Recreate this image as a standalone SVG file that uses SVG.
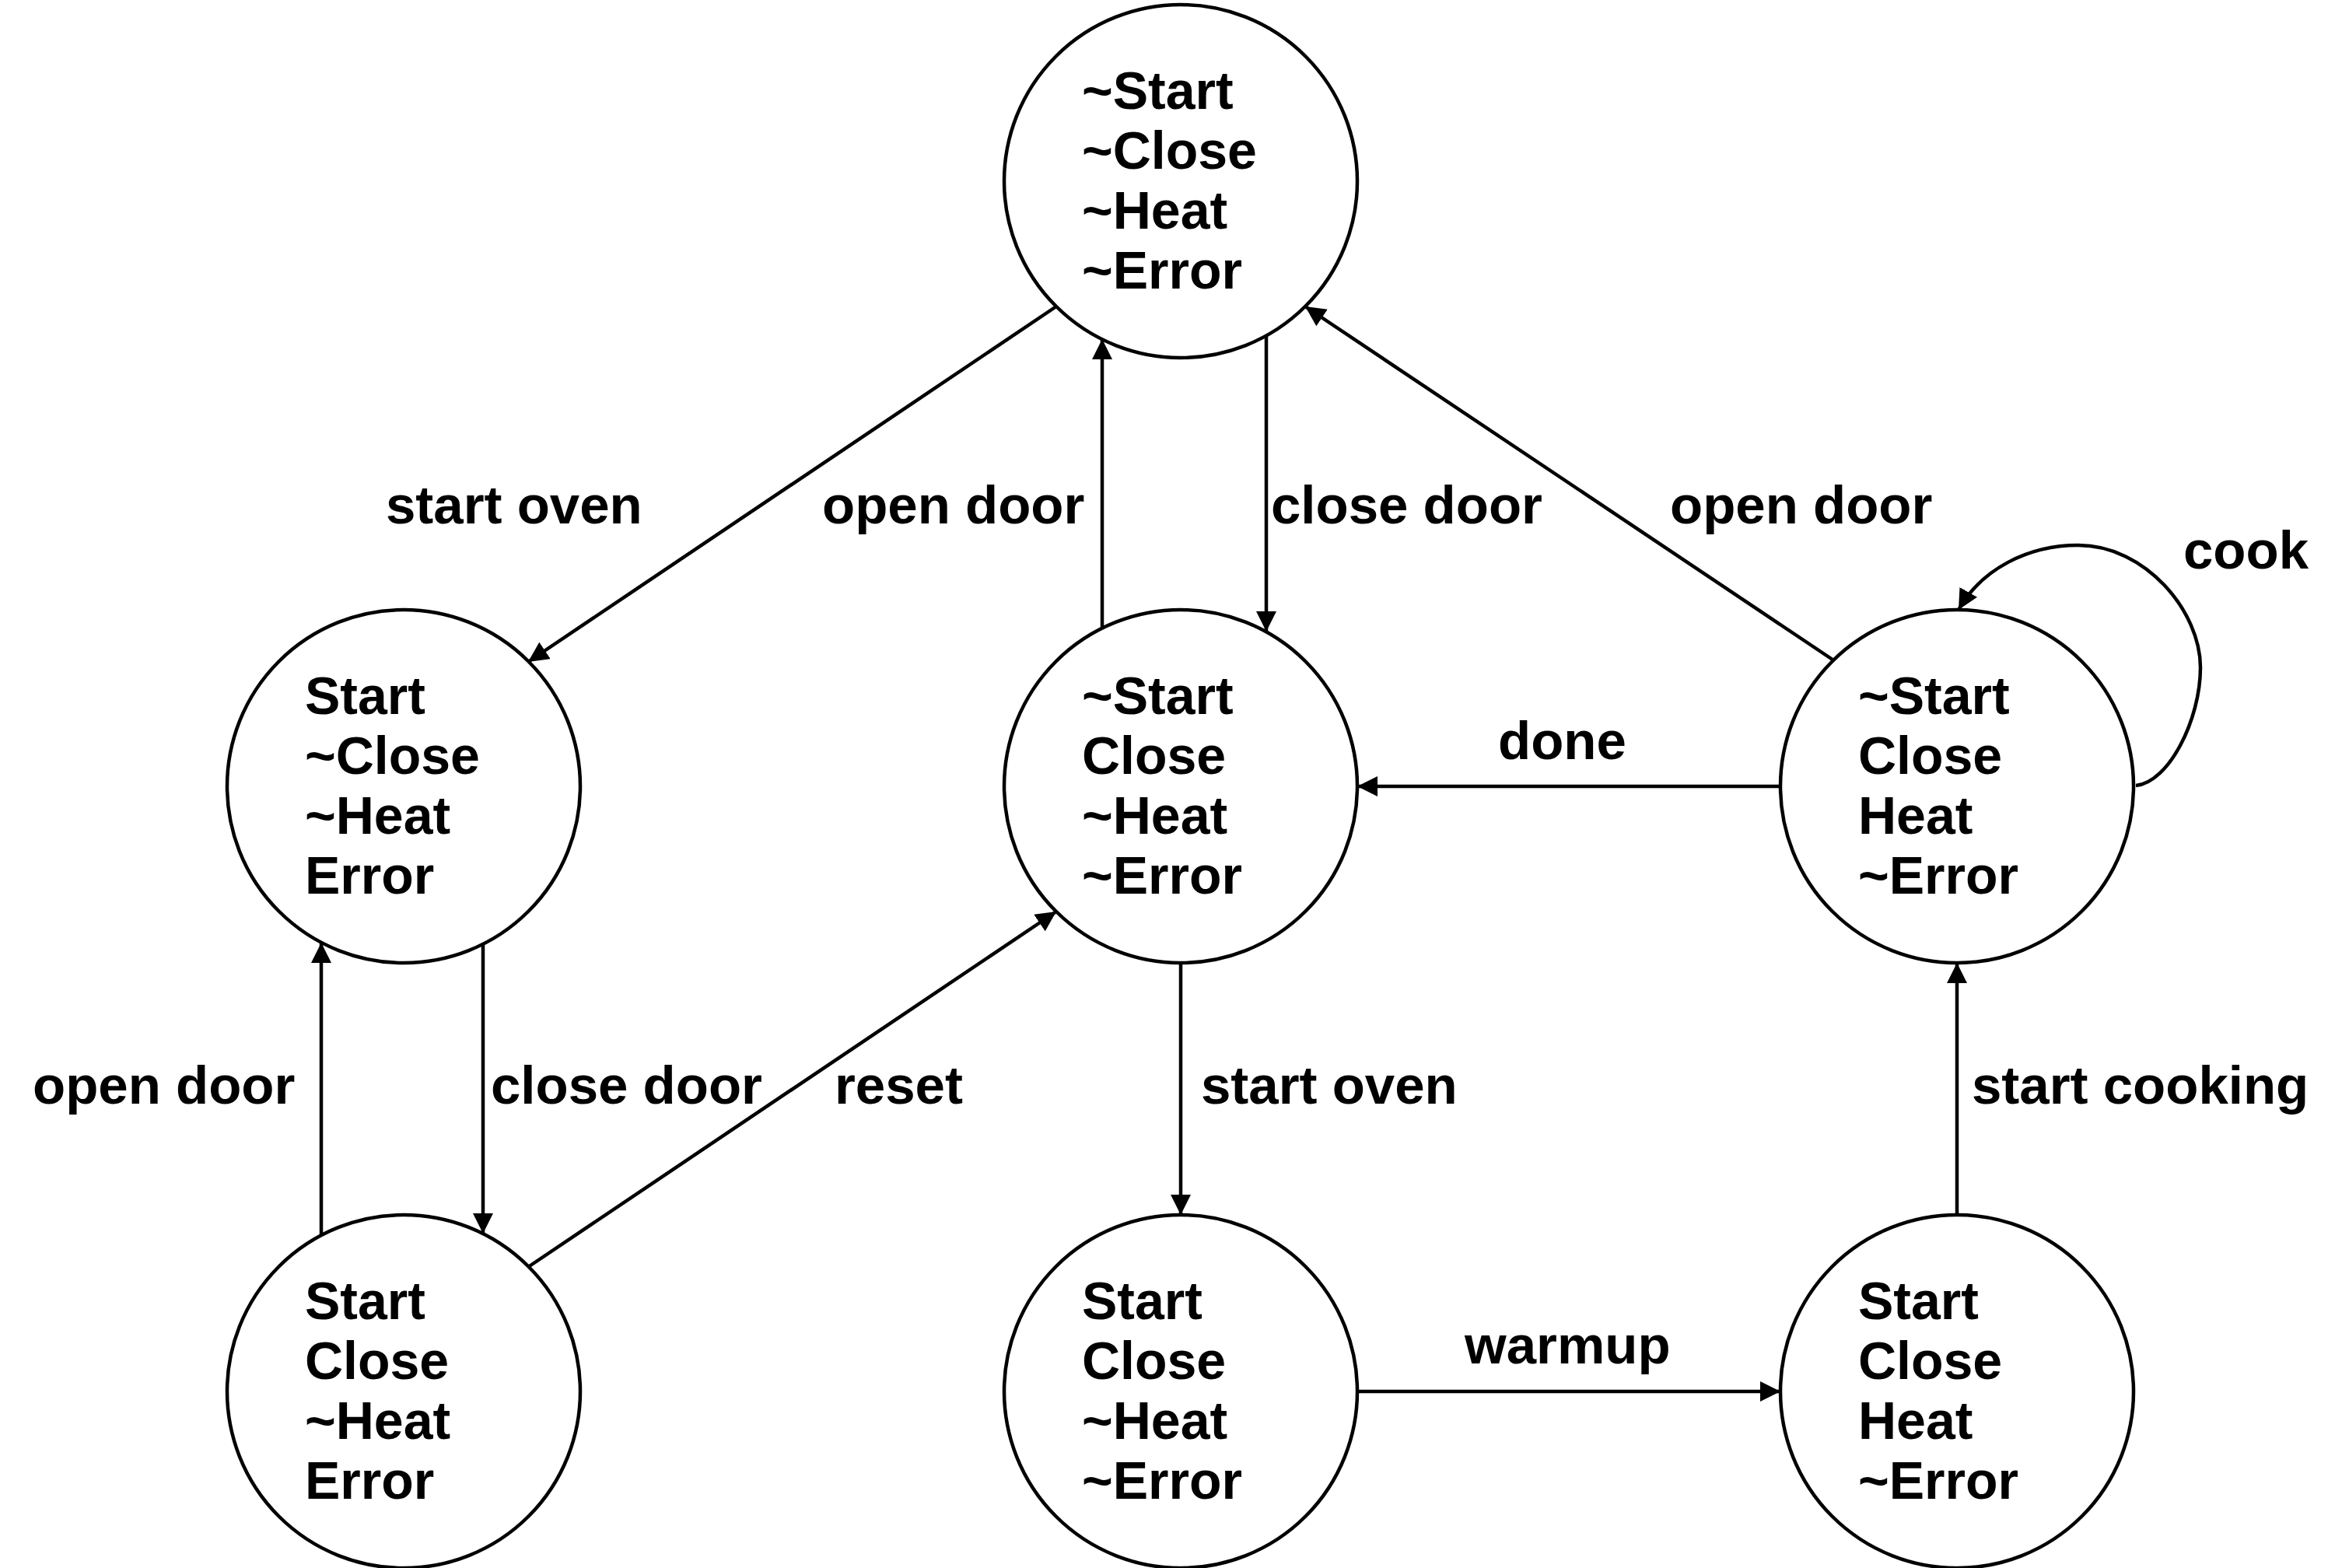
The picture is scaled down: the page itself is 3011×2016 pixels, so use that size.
<svg xmlns="http://www.w3.org/2000/svg" width="3011" height="2016" viewBox="0 0 3011 2016">
<defs>
<marker id="arr" viewBox="0 0 26 26" refX="26" refY="13" markerWidth="26" markerHeight="26" markerUnits="userSpaceOnUse" orient="auto">
<path d="M0,0 L26,13 L0,26 z" fill="#000"/>
</marker>
</defs>
<style>
.st{fill:#fff;stroke:#000;stroke-width:4.5}
.t{font-family:"Liberation Sans",Arial,sans-serif;font-weight:bold;font-size:68px;fill:#000}
.l{font-size:69px}
.e{fill:none;stroke:#000;stroke-width:4.5;marker-end:url(#arr)}
</style>
<rect width="3011" height="2016" fill="#fff"/>
<g id="connectors">
<path class="e" d="M1358,394 L679,851"/>
<path class="e" d="M1417,808 L1417,436"/>
<path class="e" d="M1628,432 L1628,812"/>
<path class="e" d="M2356,848 L1678,394"/>
<path class="e" d="M2289,1011 L1745,1011"/>
<path class="e" d="M2746,1010 C2788,1006 2829,926 2829,858 C2829,786 2758,701 2672,701 C2608,701 2548,731 2518,784"/>
<path class="e" d="M621,1214 L621,1586"/>
<path class="e" d="M413,1588 L413,1212"/>
<path class="e" d="M679,1629 L1358,1172"/>
<path class="e" d="M1518,1238 L1518,1562"/>
<path class="e" d="M1745,1789 L2289,1789"/>
<path class="e" d="M2516,1562 L2516,1238"/>
</g>
<g id="labels">
<text class="t l" x="496" y="673">start oven</text>
<text class="t l" x="1057" y="673">open door</text>
<text class="t l" x="1634" y="673">close door</text>
<text class="t l" x="2147" y="673">open door</text>
<text class="t l" x="2807" y="731">cook</text>
<text class="t l" x="1926" y="976">done</text>
<text class="t l" x="42" y="1419">open door</text>
<text class="t l" x="631" y="1419">close door</text>
<text class="t l" x="1073" y="1419">reset</text>
<text class="t l" x="1544" y="1419">start oven</text>
<text class="t l" x="2535" y="1419">start cooking</text>
<text class="t l" x="1883" y="1753">warmup</text>
</g>
<g id="n_top">
<circle class="st" cx="1518" cy="233" r="227"/>
<text class="t" x="1391" y="140">~Start</text>
<text class="t" x="1391" y="217">~Close</text>
<text class="t" x="1391" y="294">~Heat</text>
<text class="t" x="1391" y="371">~Error</text>
</g>
<g id="n_midleft">
<circle class="st" cx="519" cy="1011" r="227"/>
<text class="t" x="392" y="918">Start</text>
<text class="t" x="392" y="995">~Close</text>
<text class="t" x="392" y="1072">~Heat</text>
<text class="t" x="392" y="1149">Error</text>
</g>
<g id="n_midcenter">
<circle class="st" cx="1518" cy="1011" r="227"/>
<text class="t" x="1391" y="918">~Start</text>
<text class="t" x="1391" y="995">Close</text>
<text class="t" x="1391" y="1072">~Heat</text>
<text class="t" x="1391" y="1149">~Error</text>
</g>
<g id="n_midright">
<circle class="st" cx="2516" cy="1011" r="227"/>
<text class="t" x="2389" y="918">~Start</text>
<text class="t" x="2389" y="995">Close</text>
<text class="t" x="2389" y="1072">Heat</text>
<text class="t" x="2389" y="1149">~Error</text>
</g>
<g id="n_botleft">
<circle class="st" cx="519" cy="1789" r="227"/>
<text class="t" x="392" y="1696">Start</text>
<text class="t" x="392" y="1773">Close</text>
<text class="t" x="392" y="1850">~Heat</text>
<text class="t" x="392" y="1927">Error</text>
</g>
<g id="n_botcenter">
<circle class="st" cx="1518" cy="1789" r="227"/>
<text class="t" x="1391" y="1696">Start</text>
<text class="t" x="1391" y="1773">Close</text>
<text class="t" x="1391" y="1850">~Heat</text>
<text class="t" x="1391" y="1927">~Error</text>
</g>
<g id="n_botright">
<circle class="st" cx="2516" cy="1789" r="227"/>
<text class="t" x="2389" y="1696">Start</text>
<text class="t" x="2389" y="1773">Close</text>
<text class="t" x="2389" y="1850">Heat</text>
<text class="t" x="2389" y="1927">~Error</text>
</g>
</svg>
